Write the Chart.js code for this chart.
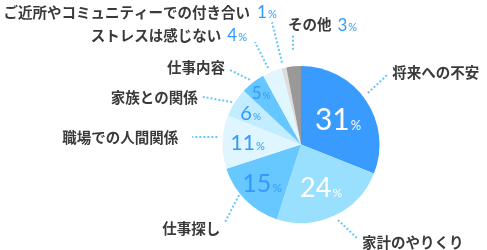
<!DOCTYPE html>
<html>
<head>
<meta charset="utf-8">
<script src="https://cdn.jsdelivr.net/npm/chart.js@4"></script>
<style>
html,body{margin:0;padding:0;background:#fff;}
#wrap{width:487px;height:250px;position:relative;}
</style>
</head>
<body>
<div id="wrap"><canvas id="c" width="487" height="250"></canvas></div>
<script>
// ---- data ----
const categories = ['将来への不安','家計のやりくり','仕事探し','職場での人間関係','家族との関係','仕事内容','ストレスは感じない','ご近所やコミュニティーでの付き合い','その他'];
const values = [31,24,15,11,6,5,4,1,3];
const colors = ['#3a9bff','#99e0ff','#66c8ff','#dff5ff','#c2ecff','#66c6ff','#e1f7ff','#dddddd','#999999'];

// ---- label layout (styles / positions, not data) ----
const insideLayout = [
  {r:0.57, fs:30, ps:13, w:400, color:'#ffffff'},
  {r:0.60, fs:27, ps:12, w:400, color:'#ffffff'},
  {r:0.70, fs:25, ps:12, w:400, color:'#3399ff'},
  {r:0.68, fs:21, ps:11, w:400, color:'#3399ff'},
  {r:0.76, fs:20, ps:10, w:400, color:'#3399ff'},
  {r:0.83, fs:17, ps:10, w:400, color:'#3399ff'},
  null, null, null
];
const outsideLayout = [
  {a0:-3.4,r0:1.076,a1:-4.7,r1:1.41,tx:5,ty:-3,align:'left'},
  {a0:-0.9,r0:1.07,a1:-5.7,r1:1.39,tx:5,ty:4,align:'left'},
  {a0:5.8,r0:1.02,a1:-0.6,r1:1.38,tx:-5,ty:7,align:'right'},
  {a0:3.3,r0:1.07,a1:2.1,r1:1.39,tx:-14,ty:0,align:'right'},
  {a0:-0.8,r0:1.03,a1:-6.5,r1:1.39,tx:-5,ty:1,align:'right'},
  {a0:-0.5,r0:1.05,a1:-5.8,r1:1.31,tx:-5,ty:-3,align:'right'},
  {a0:-1.7,r0:1.06,a1:-2.6,r1:1.43,tx:-8,ty:-7,align:'right',pct:'after'},
  {a0:-0.5,r0:1.07,a1:-0.7,r1:1.60,tx:-15,ty:-10,align:'right',pct:'start'},
  {a0:0.6,r0:1.21,a1:1.2,r1:1.40,tx:-5,ty:-10,align:'left',pct:'after'}
];

const numFont = (w,s)=> w+' '+s+'px Lato, "Open Sans", sans-serif';
const labelFont = 'bold 14.5px "Noto Sans CJK JP", "Noto Sans", sans-serif';
const labelColor = '#3a3a3a';

function pctWidth(ctx, num, fs, ps, w){
  ctx.font = numFont(w, fs); const w1 = ctx.measureText(String(num)).width;
  ctx.font = numFont(w, ps); const w2 = ctx.measureText('%').width;
  return [w1, w2];
}
function drawPct(ctx, x, y, num, fs, ps, color, w){
  const [w1] = pctWidth(ctx, num, fs, ps, w);
  const base = y + fs*0.36;
  ctx.fillStyle = color;
  ctx.textAlign = 'left'; ctx.textBaseline = 'alphabetic';
  ctx.font = numFont(w, fs); ctx.fillText(String(num), x, base);
  ctx.font = numFont(w, ps); ctx.fillText('%', x + w1 + 1, base);
}

const labelPlugin = {
  id:'labels',
  afterDraw(chart){
    const ctx = chart.ctx;
    const meta = chart.getDatasetMeta(0);
    ctx.save();
    meta.data.forEach((arc, i)=>{
      const p = arc.getProps(['x','y','startAngle','endAngle','outerRadius'], true);
      const mid = (p.startAngle + p.endAngle)/2;
      const R = p.outerRadius;
      const v = values[i];
      const il = insideLayout[i];
      if (il){
        const cx = p.x + Math.cos(mid)*R*il.r;
        const cy = p.y + Math.sin(mid)*R*il.r;
        const [w1,w2] = pctWidth(ctx, v, il.fs, il.ps, il.w);
        drawPct(ctx, cx - (w1+w2+1)/2, cy, v, il.fs, il.ps, il.color, il.w);
      }
      const ol = outsideLayout[i];
      const a0 = mid + ol.a0*Math.PI/180, a1 = mid + ol.a1*Math.PI/180;
      const sx = p.x + Math.cos(a0)*R*ol.r0, sy = p.y + Math.sin(a0)*R*ol.r0;
      const ex = p.x + Math.cos(a1)*R*ol.r1, ey = p.y + Math.sin(a1)*R*ol.r1;
      ctx.strokeStyle = '#66c8f8';
      ctx.lineWidth = 2;
      ctx.setLineDash([2,2]);
      ctx.beginPath(); ctx.moveTo(sx,sy); ctx.lineTo(ex,ey); ctx.stroke();
      ctx.setLineDash([]);
      let tx = ex + ol.tx, ty = ey + ol.ty;
      ctx.font = labelFont;
      ctx.textBaseline = 'middle';
      ctx.fillStyle = labelColor;
      if (ol.pct === 'after'){
        const [w1,w2] = pctWidth(ctx, v, 17, 11, 400);
        const pw = w1+w2+1;
        ctx.font = labelFont;
        const lw = ctx.measureText(categories[i]).width;
        let left = ol.align === 'left' ? tx : tx - (lw + 6 + pw);
        ctx.textAlign = 'left'; ctx.textBaseline = 'middle'; ctx.fillStyle = labelColor;
        ctx.fillText(categories[i], left, ty);
        drawPct(ctx, left + lw + 6, ty, v, 17, 11, '#3399ff', 400);
      } else if (ol.pct === 'start'){
        drawPct(ctx, tx, ty, v, 17, 11, '#3399ff', 400);
        ctx.font = labelFont; ctx.textAlign = 'right'; ctx.textBaseline = 'middle'; ctx.fillStyle = labelColor;
        ctx.fillText(categories[i], tx - 7, ty);
      } else {
        ctx.textAlign = ol.align;
        ctx.fillText(categories[i], tx, ty);
      }
    });
    ctx.restore();
  }
};

new Chart(document.getElementById('c'), {
  type:'pie',
  data:{
    labels: categories,
    datasets:[{data: values, backgroundColor: colors, borderWidth:0}]
  },
  options:{
    responsive:false,
    animation:false,
    layout:{padding:{left:222.5, right:107.5, top:66, bottom:27}},
    plugins:{legend:{display:false}, tooltip:{enabled:false}}
  },
  plugins:[labelPlugin]
});
</script>
</body>
</html>
